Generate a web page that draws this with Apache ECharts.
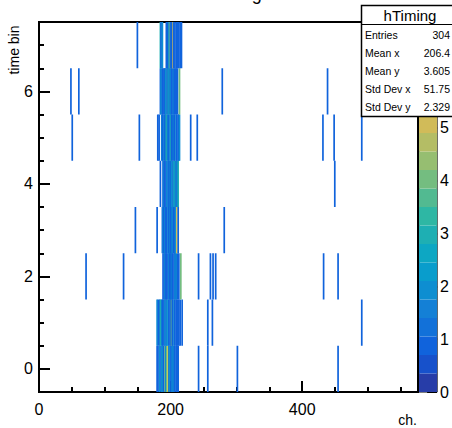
<!DOCTYPE html>
<html><head><meta charset="utf-8">
<script src="https://cdn.jsdelivr.net/npm/echarts@6/dist/echarts.min.js"></script>
<style>html,body{margin:0;padding:0;background:#fff}#c{width:452px;height:428px}</style>
</head><body><div id="c"></div><script>
// ---- data: per time bin, [channel, counts] ----
const row0 = [[179,1],[180,1],[182,1],[183,2],[185,1],[186,2],[187,2],[189,1],[191,4],[192,1],[193,3],[194,4],[196,6],[197,1],[198,2],[200,1],[201,1],[202,2],[204,1],[205,2],[206,1],[208,1],[210,1],[211,1],
  [242,1],[256,1],[301,1],[454,1]];
const row1 = [[179,2],[181,1],[183,1],[184,3],[186,2],[187,1],[188,1],[190,1],[191,2],[193,1],[194,2],[196,2],[197,1],[199,1],[200,1],[201,4],[202,1],[203,1],[205,2],[206,1],[208,1],[209,1],[210,1],[212,1],[214,1],[217,1],
  [256,1],[263,1],[490,1]];
const row2 = [[188,1],[190,1],[191,2],[192,1],[193,1],[194,1],[196,1],[197,2],[198,1],[199,1],[200,1],[201,2],[202,1],[203,1],[205,1],[206,2],[207,1],[208,2],[210,1],[212,1],[215,4],
  [71,1],[128,1],[242,1],[260,1],[264,1],[268,1],[432,1],[454,1]];
const row3 = [[179,1],[187,1],[188,2],[189,1],[190,1],[191,2],[192,1],[193,1],[194,1],[196,2],[197,1],[198,1],[199,2],[200,1],[201,1],[202,2],[204,1],[205,1],[206,1],[207,2],[209,5],[211,1],
  [146,1],[281,1]];
const row4 = [[184,1],[188,1],[189,2],[190,1],[191,1],[193,1],[194,2],[196,1],[197,1],[198,2],[199,1],[200,1],[201,2],[203,1],[204,3],[205,2],[207,3],[208,1],[209,2],[210,1],[211,3],
  [449,1]];
const row5 = [[180,1],[182,1],[186,2],[187,1],[188,1],[190,2],[191,1],[192,1],[193,3],[195,1],[196,2],[197,1],[199,2],[200,3],[201,1],[202,1],[204,2],[205,1],[206,1],[208,2],[209,1],[211,1],[212,1],[213,2],
  [50,1],[152,1],[230,1],[240,1],[431,1],[448,1],[490,1]];
const row6 = [[184,1],[185,2],[187,1],[188,1],[190,1],[191,1],[192,2],[194,1],[195,3],[196,1],[197,2],[198,3],[199,1],[200,2],[201,1],[203,1],[204,2],[205,1],[207,1],[208,1],[210,1],[213,4],
  [48,1],[60,1],[278,1],[438,1]];
const row7 = [[184,3],[185,1],[187,2],[193,1],[194,1],[195,1],[196,1],[197,3],[198,1],[199,4],[200,1],[201,1],[202,1],[203,5],[204,1],[206,1],[208,1],[209,1],[210,1],[212,1],[214,1],[216,1],
  [149,1]];
const rows = [row0,row1,row2,row3,row4,row5,row6,row7];

const xMajorTicks = [0,200,400];
const xMinorTicks = [50,100,150,250,300,350,450,500,550];
const yMajorTicks = [0,2,4,6];
const yMinorTicks = [-0.5,0.5,1,1.5,2.5,3,3.5,4.5,5,5.5,6.5,7,7.5];
const zTicks = [0,1,2,3,4,5,6,7];
const zLabels = [0,1,2,3,4,5];
const zMax = 7;
const nLevels = 20;
const statLabels = ["Entries","Mean x","Mean y","Std Dev x","Std Dev y"];
const statValues = ["304","206.4","3.605","51.75","2.329"];
const histName = "hTiming";

// ---- ROOT kBird palette ----
const bStops=[0,0.125,0.25,0.375,0.5,0.625,0.75,0.875,1];
const bR=[0.2082,0.0592,0.0780,0.0232,0.1802,0.5301,0.8186,0.9956,0.9764];
const bG=[0.1664,0.3599,0.5041,0.6419,0.7178,0.7492,0.7328,0.7862,0.9832];
const bB=[0.5293,0.8684,0.8385,0.7914,0.6425,0.4662,0.3499,0.1968,0.0539];
function bird(p){
  let i=0; while(i<bStops.length-2 && p>bStops[i+1]) i++;
  const t=(p-bStops[i])/(bStops[i+1]-bStops[i]);
  const f=a=>Math.round(255*(a[i]+(a[i+1]-a[i])*t));
  return 'rgb('+f(bR)+','+f(bG)+','+f(bB)+')';
}
const levelColors=[];
for(let i=0;i<nLevels;i++){ const idx=Math.floor((i+0.99)*255/nLevels); levelColors.push(bird(idx/254)); }
function colorOf(z){ let l=Math.floor(z/(zMax/nLevels)); if(l>nLevels-1)l=nLevels-1; return levelColors[l]; }

const cells=[];
rows.forEach((r,t)=>r.forEach(([ch,z])=>cells.push([ch,t,z])));
const levels=[];
for(let i=0;i<nLevels;i++) levels.push([i*zMax/nLevels,(i+1)*zMax/nLevels,i]);

const FONT='Liberation Sans';
const chart=echarts.init(document.getElementById('c'),null,{renderer:'svg'});
const statGraphics=[
  {type:'rect',shape:{x:361.5,y:5.5,width:100,height:111},style:{fill:'#fff',stroke:'#000',lineWidth:1.5},z:100},
  {type:'line',shape:{x1:361.5,y1:24.5,x2:452,y2:24.5},style:{stroke:'#000',lineWidth:1},z:101},
  {type:'text',x:410,y:15,style:{text:histName,font:'15px '+FONT,fill:'#000',align:'center',verticalAlign:'middle'},z:101}
];
statLabels.forEach((l,i)=>{
  const y=35+i*18;
  statGraphics.push({type:'text',x:365,y:y,style:{text:l,font:'10.5px '+FONT,fill:'#000',align:'left',verticalAlign:'middle'},z:101});
  statGraphics.push({type:'text',x:450,y:y,style:{text:statValues[i],font:'10.5px '+FONT,fill:'#000',align:'right',verticalAlign:'middle'},z:101});
});

const option={
  animation:false,
  backgroundColor:'#fff',
  grid:[
    {left:39,top:22,width:379,height:370,show:true,borderColor:'#000',borderWidth:2,backgroundColor:'transparent'},
    {left:419,top:22,width:22,height:370,show:true,borderColor:'#000',borderWidth:1,backgroundColor:'transparent'}
  ],
  xAxis:[
    {type:'value',gridIndex:0,min:0,max:576,position:'bottom',splitLine:{show:false},
     axisLine:{show:true,onZero:false,lineStyle:{color:'#000',width:2}},
     axisTick:{show:true,inside:true,length:11,customValues:xMajorTicks,lineStyle:{color:'#000',width:2}},
     axisLabel:{show:true,customValues:xMajorTicks,fontSize:16,fontFamily:FONT,color:'#000',margin:9}},
    {type:'value',gridIndex:0,min:0,max:576,position:'bottom',splitLine:{show:false},
     axisLine:{show:false,onZero:false},
     axisTick:{show:true,inside:true,length:5,customValues:xMinorTicks,lineStyle:{color:'#000',width:2}},
     axisLabel:{show:false}},
    {type:'value',gridIndex:1,min:0,max:1,show:false}
  ],
  yAxis:[
    {type:'value',gridIndex:0,min:-0.5,max:7.5,position:'left',splitLine:{show:false},
     axisLine:{show:true,onZero:false,lineStyle:{color:'#000',width:2}},
     axisTick:{show:true,inside:true,length:11,customValues:yMajorTicks,lineStyle:{color:'#000',width:2}},
     axisLabel:{show:true,customValues:yMajorTicks,fontSize:16,fontFamily:FONT,color:'#000',margin:6}},
    {type:'value',gridIndex:0,min:-0.5,max:7.5,position:'left',offset:0,splitLine:{show:false},
     axisLine:{show:false,onZero:false},
     axisTick:{show:true,inside:true,length:5,customValues:yMinorTicks,lineStyle:{color:'#000',width:2}},
     axisLabel:{show:false}},
    {type:'value',gridIndex:1,min:0,max:zMax,position:'right',splitLine:{show:false},
     axisLine:{show:false,onZero:false},
     axisTick:{show:true,inside:true,length:10,customValues:zTicks,lineStyle:{color:'#000',width:2}},
     axisLabel:{show:true,customValues:zLabels,fontSize:16,fontFamily:FONT,color:'#000',margin:3}}
  ],
  series:[
    {type:'custom',coordinateSystem:'cartesian2d',xAxisIndex:0,yAxisIndex:0,data:cells,encode:{x:0,y:1},
     renderItem:function(params,api){
       const ch=api.value(0),t=api.value(1),z=api.value(2);
       const p0=api.coord([ch,t+0.5]),p1=api.coord([ch+1,t-0.5]);
       const w=Math.max(p1[0]-p0[0],1.7);
       return {type:'rect',shape:{x:p0[0]-0.5,y:p0[1],width:w,height:p1[1]-p0[1]},style:{fill:colorOf(z)}};
     }},
    {type:'custom',coordinateSystem:'cartesian2d',xAxisIndex:2,yAxisIndex:2,data:levels,encode:{y:[0,1]},
     renderItem:function(params,api){
       const lo=api.value(0),hi=api.value(1),i=api.value(2);
       const p0=api.coord([0,hi]),p1=api.coord([1,lo]);
       return {type:'rect',shape:{x:p0[0],y:p0[1],width:p1[0]-p0[0],height:p1[1]-p0[1]},style:{fill:levelColors[i]}};
     }}
  ],
  graphic:[
    {type:'text',x:230,y:-6,style:{text:histName,font:'18px '+FONT,fill:'#000',align:'center',verticalAlign:'middle'}},
    {type:'text',x:417,y:420,style:{text:'ch.',font:'14px '+FONT,fill:'#000',align:'right',verticalAlign:'middle'}},
    {type:'text',x:14,y:50,rotation:Math.PI/2,style:{text:'time bin',font:'14px '+FONT,fill:'#000',align:'center',verticalAlign:'middle'}}
  ].concat(statGraphics)
};
chart.setOption(option);
</script></body></html>
